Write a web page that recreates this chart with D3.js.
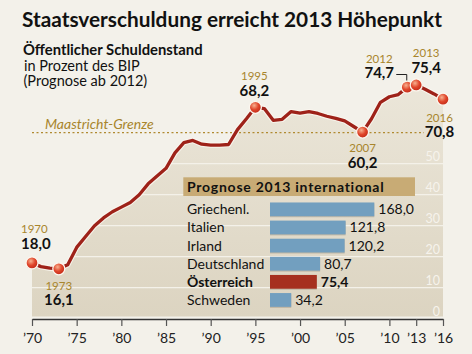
<!DOCTYPE html>
<html lang="de">
<head>
<meta charset="utf-8">
<script src="https://d3js.org/d3.v7.min.js"></script>
<style>
  body { margin: 0; background: #f3f1ea; }
  svg { display: block; font-family: Lato, "Open Sans", sans-serif; }
</style>
</head>
<body>
<svg width="472" height="354"></svg>
<script>
// Öffentlicher Schuldenstand Österreich, % des BIP
var years = [1970,1971,1972,1973,1974,1975,1976,1977,1978,1979,1980,1981,1982,1983,1984,1985,
  1986,1987,1988,1989,1990,1991,1992,1993,1994,1995,1996,1997,1998,1999,2000,2001,2002,2003,
  2004,2005,2006,2007,2008,2009,2010,2011,2012,2013,2014,2015,2016];
var debt = [18.0,16.8,16.3,16.1,17.4,23.0,26.5,30.0,32.5,34.5,36.0,37.5,40.0,43.5,46.0,48.5,
  53.5,56.8,57.5,56.3,56.0,56.0,56.2,61.0,64.5,68.2,67.8,64.0,64.3,66.8,66.3,66.8,66.2,65.3,
  64.6,63.8,62.0,60.2,64.5,69.8,71.6,72.3,74.7,75.4,74.0,72.5,70.8];
var callouts = [1970, 1973, 1995, 2007, 2012, 2013, 2016];
var maastricht = 60;

var xTicks = [1970,1975,1980,1985,1990,1995,2000,2005,2010,2013,2016];
var yTicks = [0,10,20,30,40,50];

// Prognose 2013 international
var countries = ["Griechenl.","Italien","Irland","Deutschland","Österreich","Schweden"];
var countryValues = [168.0,121.8,120.2,80.7,75.4,34.2];

var fmt = function(v){ return d3.format(".1f")(v).replace(".", ","); };
var data = years.map(function(y,i){ return {year: y, value: debt[i]}; });

var svg = d3.select("svg");
var x = d3.scaleLinear().domain([1970, 2016]).range([32, 443]);
var y = d3.scaleLinear().domain([0, 60]).range([318.7, 132.7]);

var defs = svg.append("defs");
var grad = defs.append("linearGradient").attr("id","fillg").attr("x1",0).attr("y1",0).attr("x2",0).attr("y2",1);
grad.append("stop").attr("offset","0%").attr("stop-color","#ebe6d9");
grad.append("stop").attr("offset","100%").attr("stop-color","#dcd4c1");
var dot = defs.append("radialGradient").attr("id","dotg").attr("cx","40%").attr("cy","35%").attr("r","65%");
dot.append("stop").attr("offset","0%").attr("stop-color","#f7b08f");
dot.append("stop").attr("offset","55%").attr("stop-color","#e0462b");
dot.append("stop").attr("offset","100%").attr("stop-color","#c22b18");

var area = d3.area().x(function(d){ return x(d.year); }).y0(316.5).y1(function(d){ return y(d.value); });
var line = d3.line().x(function(d){ return x(d.year); }).y(function(d){ return y(d.value); });

defs.append("clipPath").attr("id","areaClip").append("path").attr("d", area(data));

svg.append("path").attr("d", area(data)).attr("fill", "url(#fillg)");

// gridlines only inside the area
svg.append("g").attr("clip-path","url(#areaClip)")
  .selectAll("line").data(yTicks.slice(1)).enter().append("line")
  .attr("x1", x(1970)).attr("x2", x(2016))
  .attr("y1", function(d){ return y(d); }).attr("y2", function(d){ return y(d); })
  .attr("stroke", "#f4f1e9").attr("stroke-width", 1.2);

svg.append("g").selectAll("text").data(yTicks).enter().append("text")
  .attr("x", 440).attr("y", function(d){ return y(d) - 3; })
  .attr("text-anchor","end").attr("font-size", 12.5).attr("fill", "#f6f3ec")
  .text(function(d){ return d; });

// Maastricht line
svg.append("line")
  .attr("x1", x(1970)).attr("x2", 424)
  .attr("y1", y(maastricht)).attr("y2", y(maastricht))
  .attr("stroke", "#b08a30").attr("stroke-width", 1.2).attr("stroke-dasharray", "2,2.5");
svg.append("text").attr("x", 45).attr("y", 129).attr("font-size", 14)
  .attr("font-style","italic").attr("fill","#a8852c").text("Maastricht-Grenze");

// debt line
svg.append("path").attr("d", line(data)).attr("fill","none")
  .attr("stroke","#fbf8f0").attr("stroke-width", 5.5).attr("stroke-linejoin","round").attr("opacity", 0.8);
svg.append("path").attr("d", line(data)).attr("fill","none")
  .attr("stroke","#9e2219").attr("stroke-width", 3.3).attr("stroke-linejoin","round");

svg.append("g").selectAll("circle").data(data.filter(function(d){ return callouts.indexOf(d.year) >= 0; }))
  .enter().append("circle")
  .attr("cx", function(d){ return x(d.year); }).attr("cy", function(d){ return y(d.value); })
  .attr("r", 6).attr("fill","url(#dotg)").attr("stroke","#fbf6ee").attr("stroke-width", 1.3);

// callout labels: offset of the year label baseline from the point; value label sits below it
var place = {
  1970: {anchor:"start", dx: -11, dy: -29.5},
  1973: {anchor:"middle", dx: 0, dy: 21},
  1995: {anchor:"middle", dx: -1, dy: -27},
  2007: {anchor:"middle", dx: 0, dy: 20},
  2012: {anchor:"middle", dx: -28, dy: -24.5},
  2013: {anchor:"middle", dx: 10, dy: -27.5},
  2016: {anchor:"middle", dx: -3.5, dy: 22.5}
};
callouts.forEach(function(yr){
  var d = data[years.indexOf(yr)], p = place[yr];
  var cx = x(yr) + p.dx, cy = y(d.value) + p.dy;
  svg.append("text").attr("x", cx).attr("y", cy).attr("text-anchor", p.anchor)
    .attr("font-size", 11.5).attr("fill", "#a8852c").text(yr);
  svg.append("text").attr("x", cx).attr("y", cy + 15.5).attr("text-anchor", p.anchor)
    .attr("font-size", 15).attr("font-weight", "bold").attr("fill", "#111").text(fmt(d.value));
});
// bracket for 2012
svg.append("path")
  .attr("d", "M" + (x(2012) - 11) + "," + 74.5 + "H" + (x(2012) - 0.5) + "V" + 80.5)
  .attr("fill","none").attr("stroke","#222").attr("stroke-width", 1);

// x axis
var xAxis = svg.append("g").attr("transform","translate(0,319)")
  .call(d3.axisBottom(x).tickValues(xTicks).tickSize(7).tickSizeOuter(0)
    .tickFormat(function(d){ return "\u2019" + String(d).slice(2); }));
xAxis.select(".domain").attr("stroke","#333").attr("stroke-width", 1.5);
xAxis.selectAll(".tick line").attr("stroke","#555").attr("stroke-width", 1.2);
xAxis.selectAll(".tick text").attr("font-size", 14).attr("fill","#222").attr("dy", "1.0em")
  .attr("font-family", "Lato, sans-serif");

// inset: Prognose 2013 international
svg.append("rect").attr("x", 183.3).attr("y", 177.3).attr("width", 231.7).attr("height", 18.7).attr("fill", "#c8ab75");
svg.append("text").attr("x", 187).attr("y", 191.5).attr("font-size", 14).attr("font-weight","bold")
  .attr("letter-spacing", 0.75).attr("fill","#111").text("Prognose 2013 international");

var xb = d3.scaleLinear().domain([0, 168]).range([270, 374.3]);
var yb = d3.scaleBand().domain(countries).range([200.3, 309]).paddingInner(0.24).paddingOuter(0.12);

var rows = svg.append("g").selectAll("g").data(countries).enter().append("g");
rows.append("rect")
  .attr("x", xb(0)).attr("y", function(d){ return yb(d) + 1; })
  .attr("width", function(d,i){ return xb(countryValues[i]) - xb(0); })
  .attr("height", yb.bandwidth()).attr("fill", "rgba(90,80,60,0.25)");
rows.append("rect")
  .attr("x", xb(0)).attr("y", function(d){ return yb(d); })
  .attr("width", function(d,i){ return xb(countryValues[i]) - xb(0); })
  .attr("height", yb.bandwidth())
  .attr("fill", function(d){ return d === "Österreich" ? "#a6301f" : "#729fbf"; });
rows.append("text").attr("x", 187).attr("y", function(d){ return yb(d) + yb.bandwidth()/2 + 5; })
  .attr("font-size", 14).attr("fill","#111")
  .attr("font-weight", function(d){ return d === "Österreich" ? "bold" : "normal"; })
  .text(function(d){ return d; });
rows.append("text").attr("x", function(d,i){ return xb(countryValues[i]) + 4; })
  .attr("y", function(d){ return yb(d) + yb.bandwidth()/2 + 5; })
  .attr("font-size", 14).attr("fill","#111")
  .attr("font-weight", function(d){ return d === "Österreich" ? "bold" : "normal"; })
  .text(function(d,i){ return fmt(countryValues[i]); });

// titles
svg.append("text").attr("x", 22).attr("y", 27).attr("font-size", 20.8).attr("font-weight","bold")
  .attr("fill","#111").text("Staatsverschuldung erreicht 2013 Höhepunkt");
svg.append("text").attr("x", 23).attr("y", 54.5).attr("font-size", 14.8).attr("font-weight","bold")
  .attr("fill","#111").text("Öffentlicher Schuldenstand");
svg.append("text").attr("x", 24).attr("y", 70.5).attr("font-size", 14.5)
  .attr("fill","#111").text("in Prozent des BIP");
svg.append("text").attr("x", 23.5).attr("y", 86).attr("font-size", 14.5)
  .attr("fill","#111").text("(Prognose ab 2012)");
</script>
</body>
</html>
